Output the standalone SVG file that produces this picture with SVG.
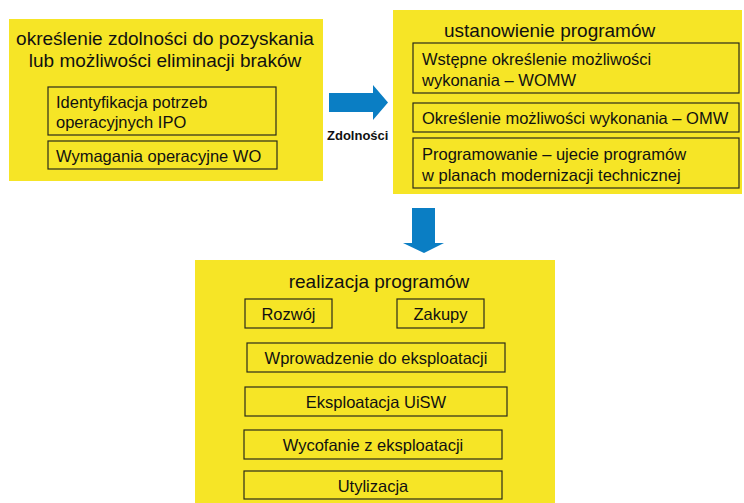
<svg xmlns="http://www.w3.org/2000/svg" width="744" height="503" viewBox="0 0 744 503">
<style>
.panel{fill:#F6E526;}
.box{fill:none;stroke:#2a2a1a;stroke-width:1.2;}
text{font-family:"Liberation Sans",Arial,sans-serif;fill:#111;}
.t{font-size:19px;}
.s{font-size:16.5px;}
.c{text-anchor:middle;}
.arrow{fill:#0A7EC4;}
</style>
<rect width="744" height="503" fill="#fff"/>
<g id="node-zdolnosci">
<rect class="panel" x="9" y="19" width="314" height="162"/>
<text class="t c" x="165" y="45">określenie zdolności do pozyskania</text>
<text class="t c" x="165" y="67">lub możliwości eliminacji braków</text>
<rect class="box" x="48" y="87" width="228" height="48"/>
<text class="s" x="56" y="108">Identyfikacja potrzeb</text>
<text class="s" x="56" y="128">operacyjnych IPO</text>
<rect class="box" x="48" y="141" width="229" height="28"/>
<text class="s" x="56" y="162">Wymagania operacyjne WO</text>
</g>
<g id="node-ustanowienie">
<rect class="panel" x="393" y="10" width="349" height="184"/>
<text class="t" x="444" y="37">ustanowienie programów</text>
<rect class="box" x="413" y="43" width="326" height="50"/>
<text class="s" x="422" y="65">Wstępne określenie możliwości</text>
<text class="s" x="422" y="86">wykonania – WOMW</text>
<rect class="box" x="413" y="103" width="326" height="29"/>
<text class="s" x="422" y="124">Określenie możliwości wykonania – OMW</text>
<rect class="box" x="413" y="138" width="326" height="50"/>
<text class="s" x="422" y="160">Programowanie – ujecie programów</text>
<text class="s" x="422" y="181">w planach modernizacji technicznej</text>
</g>
<g id="node-realizacja">
<rect class="panel" x="195" y="260" width="360" height="243"/>
<text class="t c" x="379" y="288">realizacja programów</text>
<rect class="box" x="245" y="299" width="87" height="29"/>
<text class="s c" x="288.5" y="320">Rozwój</text>
<rect class="box" x="397" y="299" width="87" height="29"/>
<text class="s c" x="440.5" y="320">Zakupy</text>
<rect class="box" x="247" y="343" width="258" height="29"/>
<text class="s c" x="376" y="364">Wprowadzenie do eksploatacji</text>
<rect class="box" x="245" y="387" width="262" height="29"/>
<text class="s c" x="376" y="408">Eksploatacja UiSW</text>
<rect class="box" x="244" y="430" width="258" height="29"/>
<text class="s c" x="373" y="451">Wycofanie z eksploatacji</text>
<rect class="box" x="244" y="471" width="258" height="28"/>
<text class="s c" x="373" y="492">Utylizacja</text>
</g>
<g id="connectors">
<polygon class="arrow" points="329,93 373,93 373,85 388,102.5 373,120 373,112 329,112"/>
<text x="327" y="140" style="font-size:13px;font-weight:bold">Zdolności</text>
<polygon class="arrow" points="412,208 435,208 435,243 444,243 424,253 403,243 412,243"/>
</g>
</svg>
